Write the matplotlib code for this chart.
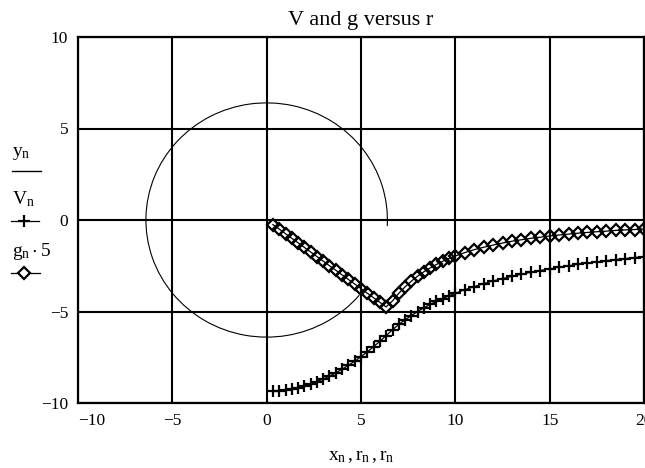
import matplotlib
matplotlib.use("Agg")
import matplotlib.pyplot as plt
from matplotlib.lines import Line2D
from matplotlib.patches import Arc

plt.rcParams["font.family"] = ["Liberation Serif", "DejaVu Serif"]
plt.rcParams["mathtext.fontset"] = "stix"

# radius values r_n
r_n = [0.33, 0.67, 1.00, 1.33, 1.67, 2.00, 2.33, 2.67, 3.00, 3.33,
       3.67, 4.00, 4.33, 4.67, 5.00, 5.33, 5.67, 6.00, 6.33, 6.67,
       7.00, 7.33, 7.67, 8.00, 8.33, 8.67, 9.00, 9.33, 9.67, 10.0,
       10.5, 11.0, 11.5, 12.0, 12.5, 13.0, 13.5, 14.0, 14.5, 15.0,
       15.5, 16.0, 16.5, 17.0, 17.5, 18.0, 18.5, 19.0, 19.5, 20.0]

# potential V_n
V_n = [-9.37, -9.34, -9.30, -9.24, -9.16, -9.07, -8.96, -8.83, -8.69, -8.53,
       -8.35, -8.15, -7.94, -7.71, -7.47, -7.21, -6.92, -6.63, -6.32, -6.00,
       -5.71, -5.46, -5.22, -5.00, -4.80, -4.61, -4.44, -4.29, -4.14, -4.00,
       -3.81, -3.64, -3.48, -3.33, -3.20, -3.08, -2.96, -2.86, -2.76, -2.67,
       -2.58, -2.50, -2.42, -2.35, -2.29, -2.22, -2.16, -2.11, -2.05, -2.00]

# field g_n * 5
g5_n = [-0.25, -0.50, -0.75, -1.00, -1.25, -1.50, -1.75, -2.00, -2.25, -2.50,
        -2.75, -3.00, -3.25, -3.50, -3.75, -4.00, -4.25, -4.50, -4.75, -4.42,
        -4.01, -3.66, -3.34, -3.07, -2.83, -2.62, -2.43, -2.26, -2.10, -1.97,
        -1.78, -1.62, -1.49, -1.37, -1.26, -1.16, -1.08, -1.00, -0.94, -0.87,
        -0.82, -0.77, -0.72, -0.68, -0.64, -0.61, -0.57, -0.54, -0.52, -0.49]

R_earth = 6.4          # circle radius
circle_from, circle_to = -3, 320   # drawn arc (degrees), small gap lower right

x_ticks = [-10, -5, 0, 5, 10, 15, 20]
y_ticks = [-10, -5, 0, 5, 10]

W, H = 645, 468
fig = plt.figure(figsize=(W / 100, H / 100), dpi=100)
fig.patch.set_facecolor("white")
ax = fig.add_axes([78 / W, 1 - 403 / H, 566 / W, 366 / H])

ax.set_xlim(-10, 20)
ax.set_ylim(-10, 10)
ax.set_xticks(x_ticks)
ax.set_yticks(y_ticks)
ax.grid(True, color="black", linewidth=1.5)
ax.set_axisbelow(True)
ax.tick_params(length=0, labelsize=12.5, pad=7)
for sp in ax.spines.values():
    sp.set_linewidth(1.6)
ax.get_xticklabels()[0].set_horizontalalignment("left")

ax.add_patch(Arc((0, 0), 2 * R_earth, 2 * R_earth, theta1=circle_from,
                 theta2=circle_to, color="black", lw=0.8))

ax.plot(r_n, V_n, color="black", lw=0.9, marker="+", markersize=9,
        markeredgewidth=1.6, clip_on=False)
ax.plot(r_n, g5_n, color="black", lw=0.9, marker="D", markersize=6,
        markerfacecolor="none", markeredgewidth=1.6, clip_on=False)

ax.set_title("V and g versus r", fontsize=16, pad=9)
ax.set_xlabel(r"$\mathregular{x_n\,,r_n\,,r_n}$", fontsize=14, labelpad=14)


def fx(px):
    return px / W


def fy(py):
    return 1 - py / H


# stacked y-axis label with legend symbols
fig.text(fx(12), fy(153), r"$\mathregular{y_n}$", fontsize=14, va="center")
fig.add_artist(Line2D([fx(12), fx(41)], [fy(171), fy(171)],
                      color="black", lw=1.0, transform=fig.transFigure))
fig.text(fx(12), fy(199), r"$\mathregular{V_n}$", fontsize=14, va="center")
fig.add_artist(Line2D([fx(11), fx(39)], [fy(221), fy(221)], color="black",
                      lw=0.9, transform=fig.transFigure))
fig.add_artist(Line2D([fx(24)], [fy(221)], color="black", marker="+",
                      markersize=9, markeredgewidth=1.6,
                      transform=fig.transFigure))
fig.text(fx(12), fy(251), r"$\mathregular{g_n\cdot 5}$", fontsize=14,
         va="center")
fig.add_artist(Line2D([fx(11), fx(40)], [fy(273), fy(273)], color="black",
                      lw=0.9, transform=fig.transFigure))
fig.add_artist(Line2D([fx(24)], [fy(273)], color="black", marker="D",
                      markersize=6, markerfacecolor="white",
                      markeredgewidth=1.6, transform=fig.transFigure))

fig.savefig("out.png", dpi=100)
